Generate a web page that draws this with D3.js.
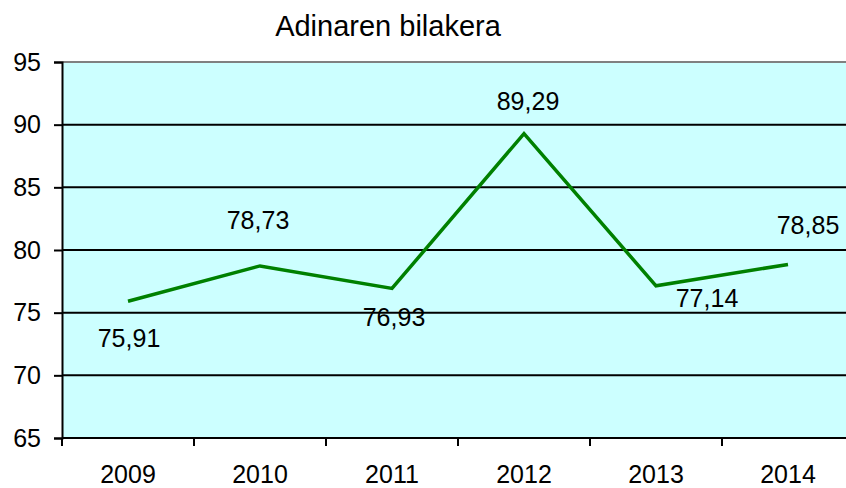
<!DOCTYPE html>
<html>
<head>
<meta charset="utf-8">
<script src="https://cdn.jsdelivr.net/npm/d3@7"></script>
<style>
    body { margin: 0; background: #fff; }
    svg text { font-family: "Liberation Sans", Arial, sans-serif; fill: #000; }
</style>
</head>
<body>
<div id="root"></div>
<script>
// Line chart: Adinaren bilakera
"use strict";

/* ********** Data ********** */
const years = ["2009", "2010", "2011", "2012", "2013", "2014"];
const values = [75.91, 78.73, 76.93, 89.29, 77.14, 78.85];
const yTicks = [65, 70, 75, 80, 85, 90, 95];

// label nudges (px) relative to each point, as placed in the original
const labelDx = [1, -2, 2, 4, 51, 20];
const labelDy = [46, -37, 38, -24, 21, -30];

/* ********** Set up ********** */
const width = 846;
const height = 488;

const margin = { top: 62, right: -8, bottom: 50, left: 62 };
const drawWidth = width - margin.left - margin.right;
const drawHeight = height - margin.top - margin.bottom;

const fmt = (v) => v.toFixed(2).replace(".", ",");

let svg = d3.select('#root')
    .append('svg')
    .attr('width', width)
    .attr('height', height);

let chartG = svg.append('g')
    .attr('transform', `translate(${margin.left},${margin.top})`);

/* ********** Scales ********** */
let xBand = d3.scaleBand()
    .domain(years)
    .range([0, drawWidth]);

let xScale = (d) => xBand(d) + xBand.bandwidth() / 2;

let yScale = d3.scaleLinear()
    .domain([65, 95])
    .range([drawHeight, 0]);

/* ********** Plot area ********** */
chartG.append('rect')
    .attr('width', drawWidth)
    .attr('height', drawHeight)
    .attr('fill', '#ccffff');

// horizontal gridlines
chartG.selectAll('.grid')
    .data(yTicks.filter((t) => t > 65 && t < 95))
    .enter().append('line')
    .attr('x1', 0)
    .attr('x2', drawWidth)
    .attr('y1', (d) => yScale(d))
    .attr('y2', (d) => yScale(d))
    .attr('stroke', '#000')
    .attr('stroke-width', 2);

// top border
chartG.append('line')
    .attr('x1', 0).attr('x2', drawWidth)
    .attr('y1', yScale(95)).attr('y2', yScale(95))
    .attr('stroke', '#808080')
    .attr('stroke-width', 2);

/* ********** Axes ********** */
let yAxis = d3.axisLeft(yScale)
    .tickValues(yTicks)
    .tickSize(8)
    .tickPadding(13);

let yAxisG = chartG.append('g').call(yAxis);
yAxisG.select('.domain').attr('stroke', '#000').attr('stroke-width', 2);
yAxisG.selectAll('.tick line').attr('stroke', '#000').attr('stroke-width', 2);
yAxisG.selectAll('.tick text')
    .style('font-size', '25px')
    .style('font-family', '"Liberation Sans", Arial, sans-serif');

// x axis: ticks on category boundaries
let boundaries = years.map((d) => xBand(d));
let xAxisG = chartG.append('g')
    .attr('transform', `translate(0,${drawHeight})`);
xAxisG.append('line')
    .attr('x1', 0).attr('x2', drawWidth)
    .attr('stroke', '#000').attr('stroke-width', 2);
xAxisG.selectAll('.xtick')
    .data(boundaries)
    .enter().append('line')
    .attr('x1', (d) => d).attr('x2', (d) => d)
    .attr('y1', 0).attr('y2', 8)
    .attr('stroke', '#000').attr('stroke-width', 2);
xAxisG.selectAll('.xlabel')
    .data(years)
    .enter().append('text')
    .attr('x', (d) => xScale(d))
    .attr('y', 45)
    .attr('text-anchor', 'middle')
    .style('font-size', '25px')
    .text((d) => d);

/* ********** Line ********** */
let data = years.map((y, i) => ({ year: y, value: values[i], i: i }));

let line = d3.line()
    .x((d) => xScale(d.year))
    .y((d) => yScale(d.value));

chartG.append('path')
    .datum(data)
    .attr('d', line)
    .attr('fill', 'none')
    .attr('stroke', '#008000')
    .attr('stroke-width', 3.5)
    .attr('stroke-linejoin', 'miter');

// value labels
chartG.selectAll('.vlabel')
    .data(data)
    .enter().append('text')
    .attr('x', (d) => xScale(d.year) + labelDx[d.i])
    .attr('y', (d) => yScale(d.value) + labelDy[d.i])
    .attr('text-anchor', 'middle')
    .style('font-size', '25px')
    .text((d) => fmt(d.value));

/* ********** Title ********** */
svg.append('text')
    .attr('x', 388)
    .attr('y', 36)
    .attr('text-anchor', 'middle')
    .style('font-size', '29px')
    .text('Adinaren bilakera');
</script>
</body>
</html>
